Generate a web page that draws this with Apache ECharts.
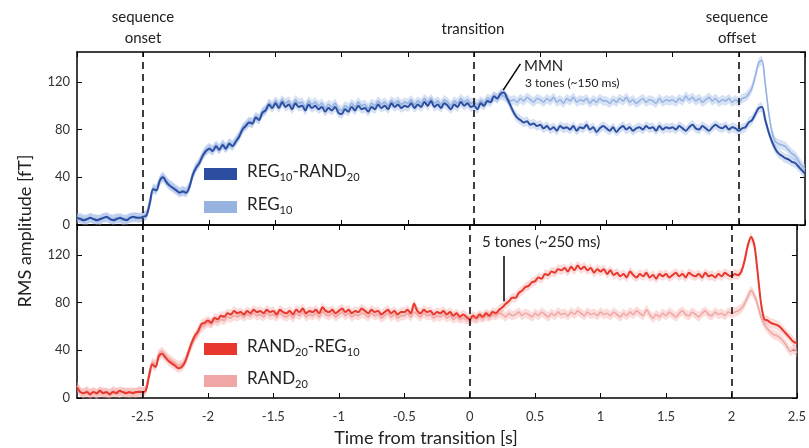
<!DOCTYPE html>
<html>
<head>
<meta charset="utf-8">
<script src="https://cdn.jsdelivr.net/npm/echarts@6/dist/echarts.min.js"></script>
<style>
  html, body { margin: 0; padding: 0; background: #fff; }
  #chart-container { width: 809px; height: 448px; }
</style>
</head>
<body>
<div id="chart-container"></div>
<script>
var dom = document.getElementById("chart-container");
var myChart = echarts.init(dom, null, { renderer: "canvas" });

// time samples: -3 s .. 2.5 s every 25 ms
var tStart = -3;
var tStep = 0.025;
var events = [-2.5, 0, 2];

// REG10-RAND20 (top, dark blue)
var regRand = [
  6,5,4,5,6,5,4,5,6,7,5,4,5,6,5,4,6,7,6,6,
  7,8,18,30,29,37,40,36,33,31,29,27,28,27,32,42,48,52,58,62,
  64,62,66,63,67,64,68,66,70,74,80,83,86,85,90,88,94,96,101,98,
  102,98,103,99,101,97,102,99,100,96,101,98,100,97,99,95,98,96,99,94,
  93,97,95,99,96,100,97,98,95,99,97,101,98,100,97,102,99,101,98,100,
  99,102,98,101,99,103,100,104,99,101,98,102,100,97,101,99,103,100,102,99,
  100,97,102,100,104,103,108,106,110,111,106,100,94,90,88,86,87,84,85,83,
  84,81,83,80,82,79,83,81,82,80,83,79,82,81,84,80,82,78,81,83,
  81,79,82,78,81,83,80,82,79,81,82,80,83,81,82,79,83,80,82,81,
  82,80,83,81,79,82,84,81,80,83,81,79,82,84,82,81,83,80,82,81,
  79,81,82,86,88,93,98,99,88,78,70,64,60,58,56,55,53,52,49,46,
  43
];

// REG10 (top, light blue)
var reg = [
  5,6,5,4,6,5,5,4,6,6,5,5,6,5,4,5,6,6,7,6,
  7,9,20,31,30,38,41,37,34,32,30,28,29,28,33,43,49,53,59,63,
  65,63,67,64,68,65,69,67,71,75,81,84,87,86,91,89,95,97,102,100,
  104,101,105,102,104,100,105,102,103,99,104,101,103,100,102,98,101,99,102,97,
  96,100,98,102,99,103,100,101,98,102,100,104,101,103,100,104,102,104,101,103,
  102,105,101,104,102,106,103,106,102,104,101,105,103,100,104,102,106,103,105,102,
  103,101,104,102,106,105,108,106,109,108,106,104,105,103,106,104,107,105,103,106,
  105,103,106,104,107,103,105,102,106,104,107,103,105,104,106,102,105,103,106,104,
  104,102,105,103,106,104,107,103,105,102,104,106,103,105,104,102,106,103,105,104,
  105,103,106,104,108,105,107,104,106,103,105,107,104,106,103,105,104,106,103,105,
  103,106,107,110,115,125,136,138,118,95,78,70,68,67,66,63,60,58,54,50,
  47
];

// RAND20-REG10 (bottom, red)
var randReg = [
  9,5,4,5,3,5,4,6,4,5,3,5,4,6,5,4,5,4,5,5,
  5,6,18,28,26,35,37,34,31,29,27,25,26,30,38,46,52,56,62,63,
  65,63,67,66,69,68,71,70,73,71,72,70,73,71,74,72,73,71,74,72,
  73,70,74,72,71,73,70,74,72,75,71,73,72,74,71,76,73,72,74,71,
  73,75,72,74,71,73,72,75,73,71,74,72,73,70,72,74,71,73,70,72,
  72,74,71,79,73,71,74,72,73,70,72,71,73,70,72,69,71,68,70,68,
  66,69,67,70,68,71,69,72,71,74,76,79,81,84,84,88,90,93,94,97,
  98,101,100,104,103,106,105,108,107,109,106,110,107,111,108,110,107,109,105,108,
  106,108,104,107,103,105,102,104,101,106,103,101,104,102,105,101,103,100,104,102,
  104,101,103,105,102,104,101,105,103,102,104,101,105,102,103,101,104,102,105,103,
  102,104,103,106,115,128,135,128,105,80,66,65,63,62,61,59,56,53,50,47,
  46
];

// RAND20 (bottom, pink)
var rand = [
  10,5,4,6,4,5,3,5,5,4,4,6,5,4,5,5,4,5,4,6,
  5,7,20,30,28,37,39,36,33,31,29,27,28,31,37,44,50,54,59,61,
  63,62,65,64,66,65,68,67,69,68,70,68,70,69,71,69,70,68,71,69,
  70,68,71,69,68,70,67,71,69,72,68,70,69,71,68,72,70,69,71,68,
  70,72,69,71,68,70,69,71,70,68,71,69,70,67,69,71,68,70,67,69,
  69,71,68,72,70,68,71,69,70,67,69,68,70,67,69,66,68,66,67,66,
  65,67,66,68,67,69,68,70,69,71,70,68,71,69,70,72,69,71,70,68,
  71,69,72,70,68,71,69,72,70,71,69,72,70,73,71,69,72,70,71,69,
  72,70,71,69,72,70,68,71,69,72,70,73,71,69,74,70,67,70,68,71,
  69,72,70,68,71,73,70,69,72,70,68,71,73,70,69,72,70,71,69,72,
  71,72,73,75,79,85,90,86,78,68,62,58,55,53,52,50,47,43,39,41,
  38
];

var BAND = 4;
var FONT = "Lato";
var INK = "#222";

function pairs(vals) {
  return vals.map(function (v, i) {
    return [Math.round((tStart + i * tStep) * 1000) / 1000, v];
  });
}

// shaded error band: one polygon v-BAND .. v+BAND, drawn through the axes
function bandSeries(vals, color, ax) {
  var pts = pairs(vals);
  return {
    type: "custom", xAxisIndex: ax, yAxisIndex: ax, silent: true, z: 1,
    data: pts, encode: { x: 0, y: 1 },
    renderItem: function (params, api) {
      if (params.dataIndex !== 0) return null;
      var lo = pts.map(function (p) { return api.coord([p[0], p[1] - BAND]); });
      var hi = pts.map(function (p) { return api.coord([p[0], p[1] + BAND]); }).reverse();
      return {
        type: "polygon",
        shape: { points: lo.concat(hi) },
        style: { fill: color },
      };
    },
  };
}

function lineSeries(name, vals, color, width, ax, z) {
  return {
    name: name, type: "line", xAxisIndex: ax, yAxisIndex: ax,
    symbol: "none", z: z, smooth: 0.3, data: pairs(vals),
    lineStyle: { color: color, width: width },
  };
}

function eventLines(extra) {
  var d = events.map(function (e) { return { xAxis: e }; });
  return {
    symbol: "none", silent: true, label: { show: false },
    lineStyle: { color: "#000", width: 1.5, type: [7, 5] },
    data: d.concat(extra || []),
  };
}

var axLine = { show: true, onZero: false, lineStyle: { color: "#000", width: 1.5 } };
var axTick = { show: true, inside: true, length: 5, lineStyle: { color: "#000", width: 1 } };

function xAx(grid, pos, labels) {
  return {
    type: "value", gridIndex: grid, position: pos, min: -3, max: 2.5, interval: 0.5,
    axisLine: axLine, axisTick: axTick, splitLine: { show: false },
    axisLabel: {
      show: labels, showMinLabel: false, margin: 12,
      color: "#333", fontSize: 13, fontFamily: FONT,
    },
  };
}

function yAx(grid, pos, labels) {
  return {
    type: "value", gridIndex: grid, position: pos, min: 0, max: 145, interval: 40,
    axisLine: axLine, axisTick: axTick, splitLine: { show: false },
    axisLabel: {
      show: labels, showMaxLabel: false, margin: 7,
      color: "#333", fontSize: 13, fontFamily: FONT,
    },
  };
}

var blueDark = "#2c4ea0";
var blueLight = "#97b4e0";
var redDark = "#e8372c";
var redLight = "#f1a7a5";

var top0 = lineSeries("REG10-RAND20", regRand, blueDark, 2, 0, 4);
top0.markLine = eventLines([
  [
    { coord: [0.22, 113], lineStyle: { type: "solid", width: 1.5, color: "#000" } },
    { coord: [0.35, 135] },
  ],
]);

var bot0 = lineSeries("RAND20-REG10", randReg, redDark, 2, 2, 4);
bot0.markLine = eventLines([
  [
    { coord: [0.26, 119], lineStyle: { type: "solid", width: 1.5, color: "#000" } },
    { coord: [0.26, 81] },
  ],
]);

var series = [
  bandSeries(reg, "rgba(175,198,236,0.5)", 0),
  bandSeries(regRand, "rgba(150,178,228,0.4)", 0),
  bandSeries(rand, "rgba(246,180,178,0.45)", 2),
  bandSeries(randReg, "rgba(242,140,135,0.3)", 2),
  lineSeries("REG10", reg, blueLight, 1.6, 0, 3),
  top0,
  lineSeries("RAND20", rand, redLight, 1.6, 2, 3),
  bot0,
];

function txt(x, y, s, size, align) {
  return {
    type: "text", x: x, y: y, z: 10,
    style: {
      text: s, fill: INK, fontSize: size, fontFamily: FONT,
      align: align || "center", verticalAlign: "middle",
      textAlign: align || "center", textVerticalAlign: "middle",
    },
  };
}

var rich = {
  a: { fontSize: 17, lineHeight: 22, fontFamily: FONT, fill: INK },
  b: { fontSize: 11, lineHeight: 6, verticalAlign: "bottom", fontFamily: FONT, fill: INK },
};

function legendItem(y, color, label) {
  return [
    { type: "rect", shape: { x: 204, y: y - 6, width: 33, height: 12 }, style: { fill: color }, z: 10 },
    { type: "text", left: 247, top: y - 11, z: 10, style: { text: label, rich: rich } },
  ];
}

var graphics = [
  txt(143, 17, "sequence", 15),
  txt(143, 38, "onset", 15),
  txt(473, 29, "transition", 15),
  txt(737, 17, "sequence", 15),
  txt(737, 38, "offset", 15),
  txt(524, 66, "MMN", 15, "left"),
  txt(525, 83, "3 tones (~150 ms)", 12, "left"),
  txt(482, 242, "5 tones (~250 ms)", 15, "left"),
  txt(426, 438, "Time from transition [s]", 18),
  {
    type: "text", x: 25, y: 231, rotation: Math.PI / 2, z: 10,
    style: {
      text: "RMS amplitude [fT]", fill: INK, fontSize: 18, fontFamily: FONT,
      align: "center", verticalAlign: "middle",
      textAlign: "center", textVerticalAlign: "middle",
    },
  },
]
  .concat(legendItem(174, blueDark, "{a|REG}{b|10}{a|-RAND}{b|20}"))
  .concat(legendItem(207, blueLight, "{a|REG}{b|10}"))
  .concat(legendItem(349, redDark, "{a|RAND}{b|20}{a|-REG}{b|10}"))
  .concat(legendItem(381, redLight, "{a|RAND}{b|20}"));

var option = {
  animation: false,
  backgroundColor: "#fff",
  grid: [
    { left: 77, top: 52, width: 728, height: 173 },
    { left: 77, top: 225, width: 728, height: 173 },
  ],
  xAxis: [xAx(0, "bottom", false), xAx(0, "top", false), xAx(1, "bottom", true), xAx(1, "top", false)],
  yAxis: [yAx(0, "left", true), yAx(0, "right", false), yAx(1, "left", true), yAx(1, "right", false)],
  series: series,
  graphic: graphics,
};

myChart.setOption(option);
window.addEventListener("resize", myChart.resize);
</script>
</body>
</html>
